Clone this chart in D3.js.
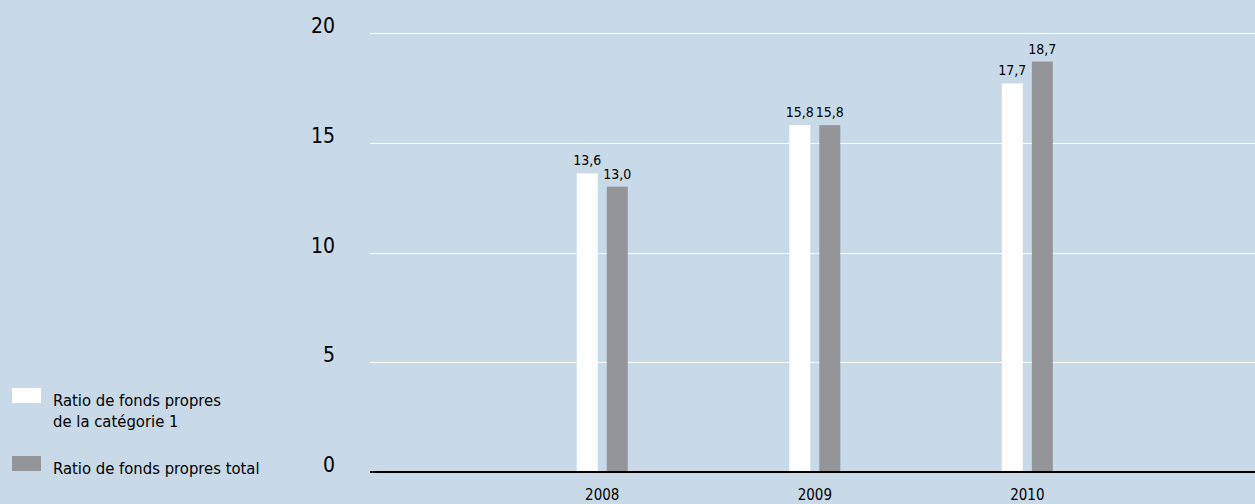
<!DOCTYPE html>
<meta charset="utf-8">
<style>
body { margin: 0; background: #c8dae8; }
svg { display: block; font-family: "DejaVu Sans Condensed", "Liberation Sans Narrow", sans-serif; font-stretch: condensed; }
.grid line { stroke: #fff; stroke-width: 1px; }
.tick-label { font-size: 21px; fill: #000; text-anchor: end; }
.year { font-size: 15px; fill: #000; text-anchor: middle; }
.val { font-size: 14px; fill: #000; text-anchor: middle; }
.legend text { font-size: 16.5px; fill: #000; }
</style>
<svg width="1255" height="504"></svg>
<script src="https://cdn.jsdelivr.net/npm/d3@7"></script>
<script>

var years = ["2008", "2009", "2010"];
var tier1 = [13.6, 15.8, 17.7];
var total = [13.0, 15.8, 18.7];
var yTicks = [0, 5, 10, 15, 20];
var seriesNames = [["Ratio de fonds propres", "de la catégorie 1"], ["Ratio de fonds propres total"]];

var svg = d3.select("svg"),
    plotLeft = 370, plotRight = 1255, plotTop = 33, plotBottom = 472;

var x = d3.scalePoint()
    .domain(years)
    .range([plotLeft, plotRight])
    .padding(1.082)
    .align(0.505);

var y = d3.scaleLinear()
    .domain([0, 20])
    .range([plotBottom, plotTop]);

var fmt = function(v) { return d3.format(".1f")(v).replace(".", ","); };

var grid = svg.append("g").attr("class", "grid");
grid.selectAll("line")
    .data(yTicks.filter(function(d) { return d > 0; }))
  .enter().append("line")
    .attr("x1", plotLeft).attr("x2", plotRight)
    .attr("y1", function(d) { return Math.round(y(d)) + 0.5; })
    .attr("y2", function(d) { return Math.round(y(d)) + 0.5; });

svg.selectAll(".tick-label")
    .data(yTicks)
  .enter().append("text")
    .attr("class", "tick-label")
    .attr("x", 335)
    .attr("y", function(d) { return y(d); })
    .text(function(d) { return d; });

var bw = 21, off = 15;
var series = [
  {vals: tier1, color: "#ffffff", dx: -off},
  {vals: total, color: "#939598", dx: off}
];

series.forEach(function(s) {
  var g = svg.append("g");
  g.selectAll("rect")
      .data(s.vals)
    .enter().append("rect")
      .attr("x", function(d, i) { return x(years[i]) + s.dx - bw / 2; })
      .attr("y", function(d) { return y(d); })
      .attr("width", bw)
      .attr("height", function(d) { return y(0) - y(d); })
      .attr("fill", s.color);
  g.selectAll("text")
      .data(s.vals)
    .enter().append("text")
      .attr("class", "val")
      .attr("x", function(d, i) { return x(years[i]) + s.dx; })
      .attr("y", function(d) { return y(d) - 8; })
      .text(fmt);
});

svg.append("line")
    .attr("x1", plotLeft).attr("x2", plotRight)
    .attr("y1", plotBottom).attr("y2", plotBottom)
    .attr("stroke", "#000").attr("stroke-width", 2);

svg.selectAll(".year")
    .data(years)
  .enter().append("text")
    .attr("class", "year")
    .attr("x", function(d) { return x(d); })
    .attr("y", 500)
    .text(function(d) { return d; });

var legend = svg.append("g").attr("class", "legend");
var legY = [388, 456];
seriesNames.forEach(function(lines, i) {
  legend.append("rect")
      .attr("x", 12).attr("y", legY[i])
      .attr("width", 29).attr("height", 15)
      .attr("fill", series[i].color);
  lines.forEach(function(t, j) {
    legend.append("text")
        .attr("x", 53)
        .attr("y", legY[i] + 18 + j * 21)
        .text(t);
  });
});

</script>
